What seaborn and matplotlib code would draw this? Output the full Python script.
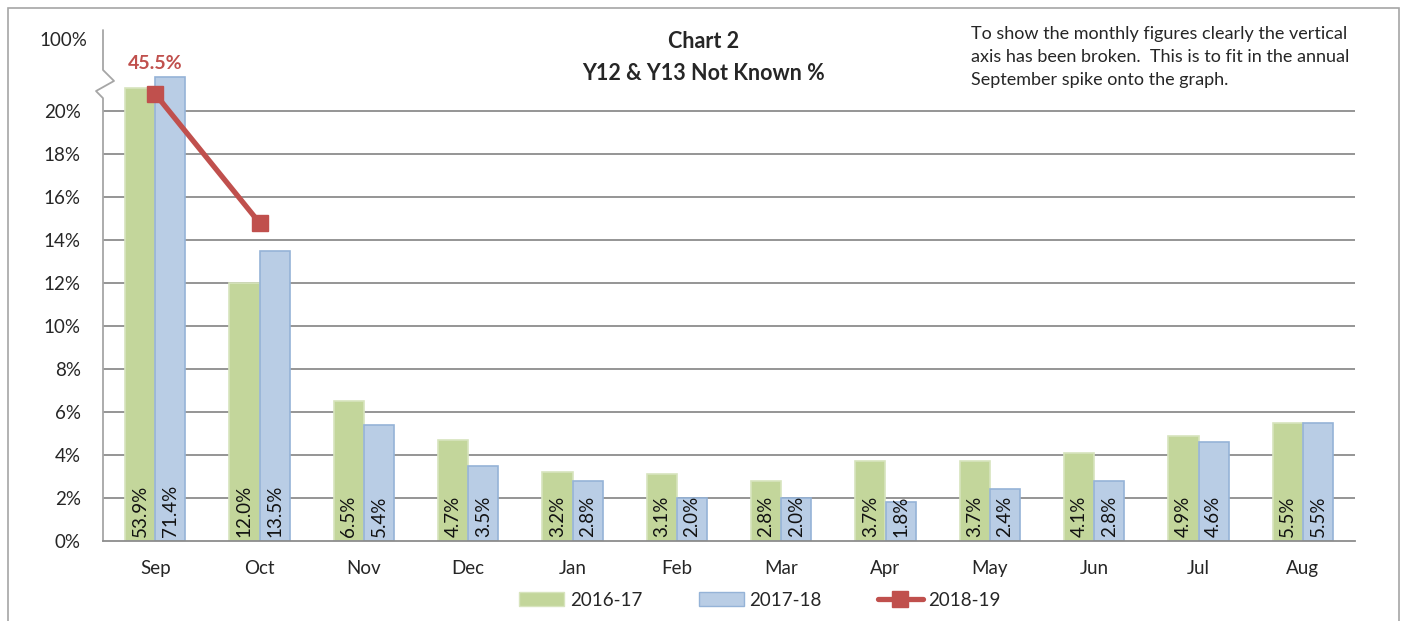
import numpy as np
import pandas as pd
import matplotlib
matplotlib.use('Agg')
import matplotlib.pyplot as plt
import matplotlib.transforms as mtransforms
from matplotlib.patches import Rectangle, Patch
from matplotlib.lines import Line2D
import seaborn as sns

# data
months = ['Sep', 'Oct', 'Nov', 'Dec', 'Jan', 'Feb', 'Mar', 'Apr', 'May', 'Jun', 'Jul', 'Aug']
y2016_17 = [53.9, 12.0, 6.5, 4.7, 3.2, 3.1, 2.8, 3.7, 3.7, 4.1, 4.9, 5.5]
y2017_18 = [71.4, 13.5, 5.4, 3.5, 2.8, 2.0, 2.0, 1.8, 2.4, 2.8, 4.6, 5.5]
y2018_19 = [45.5, 14.8]
series_names = ['2016-17', '2017-18', '2018-19']
yticks = [0, 2, 4, 6, 8, 10, 12, 14, 16, 18, 20]

green, green_edge = '#C3D69B', '#D7E4BD'
blue, blue_edge = '#B9CDE5', '#95B3D7'
red = '#C0504D'
grey = '#8C8C8C'


# the vertical axis is broken above 20% - squash everything above it
def broken(v):
    v = np.asarray(v, dtype=float)
    return np.where(v <= 20, v, 20 + (v - 20) * 2.5 / 80)


df = pd.DataFrame({
    'month': months * 2,
    'series': [series_names[0]] * 12 + [series_names[1]] * 12,
    'value': y2016_17 + y2017_18,
})
df['drawn'] = broken(df['value'])

sns.set_theme(style='white')
plt.rcParams['font.family'] = ['Lato', 'DejaVu Sans']

fig = plt.figure(figsize=(14.02, 6.21), dpi=100)
ax = fig.add_axes([103 / 1402, 80 / 621, 1252 / 1402, 511 / 621])

sns.barplot(data=df, x='month', y='drawn', hue='series', order=months,
            hue_order=series_names[:2], palette=[green, blue],
            width=0.58, gap=0, saturation=1, legend=False, ax=ax)

edges = [green_edge, blue_edge]
for cont, ec, vals in zip(ax.containers, edges, [y2016_17, y2017_18]):
    for p, v in zip(cont.patches, vals):
        p.set_edgecolor(ec)
        p.set_linewidth(1.2)
        ax.text(p.get_x() + p.get_width() / 2, 0.2, f'{v:.1f}%', rotation=90,
                ha='center', va='bottom', fontsize=13.5, color='#111111')

# 2018-19 line
line_x = np.arange(len(y2018_19))
ax.plot(line_x, broken(y2018_19), color=red, lw=3.8, marker='s',
        markersize=12, markeredgecolor=red, zorder=5)
ax.text(0, broken(45.5) + 1.4, f'{y2018_19[0]}%', color=red, fontsize=14,
        fontweight='bold', ha='center', va='center')

ax.set_xlim(-0.5, 11.5)
ax.set_ylim(0, 23.77)
ax.set_yticks(yticks)
ax.set_yticklabels([f'{t}%' for t in yticks], fontsize=13.5)
ax.tick_params(axis='y', length=0, pad=16)
ax.tick_params(axis='x', length=0, pad=14, labelsize=13.5)
ax.set_xticks(np.arange(-0.5, 12, 1), minor=True)
ax.tick_params(axis='x', which='minor', length=8, color=grey, width=1.2)
ax.set_xlabel('')
ax.set_ylabel('')
for t in yticks[1:]:
    ax.axhline(t, color=grey, lw=1.3, zorder=0)

for s in ['top', 'right', 'left']:
    ax.spines[s].set_visible(False)
ax.spines['bottom'].set_color(grey)
ax.spines['bottom'].set_linewidth(1.3)

# broken y axis line with zig-zag
trans = mtransforms.blended_transform_factory(ax.transAxes, ax.transData)
ax.plot([0, 0, 0.0088, -0.0056, 0, 0], [23.77, 21.91, 21.40, 20.93, 20.60, 0],
        color='#A6A6A6', lw=1.3, transform=trans, clip_on=False, zorder=1)
ax.text(-16 / 1252, 23.26, '100%', transform=trans, ha='right', va='center', fontsize=13.5)

# titles and note
fig.text(704 / 1402, 1 - 42 / 621, 'Chart 2', ha='center', va='center',
         fontsize=15.5, fontweight='bold')
fig.text(704 / 1402, 1 - 74 / 621, 'Y12 & Y13 Not Known %', ha='center', va='center',
         fontsize=15.5, fontweight='bold')
fig.text(971 / 1402, 1 - 26 / 621,
         'To show the monthly figures clearly the vertical\n'
         'axis has been broken.  This is to fit in the annual\n'
         'September spike onto the graph.',
         ha='left', va='top', fontsize=13, linespacing=1.55)

handles = [Patch(facecolor=green, edgecolor=green_edge),
           Patch(facecolor=blue, edgecolor=blue_edge),
           Line2D([], [], color=red, lw=3.8, marker='s', markersize=12)]
fig.legend(handles, series_names, loc='center', bbox_to_anchor=(760 / 1402, 21 / 621),
           ncol=3, frameon=False, fontsize=13.5, handlelength=2.4, columnspacing=3.0,
           handletextpad=0.3)

# chart border
fig.patches.append(Rectangle((8 / 1402, -0.05), 1391 / 1402, 1.05 - 8 / 621,
                             transform=fig.transFigure, fill=False,
                             edgecolor='#A6A6A6', lw=1.2))

fig.savefig('out.png', dpi=100)
